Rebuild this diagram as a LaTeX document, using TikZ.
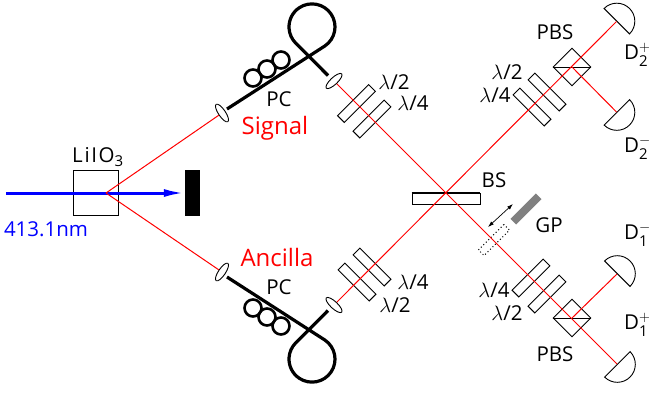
\documentclass[tikz,border=0pt]{standalone}
\usepackage{fontspec}
\usepackage{amsmath}
\setmainfont{Open Sans}
\usetikzlibrary{
arrows.meta,
shapes.geometric
}
\newcommand{\detlab}[2]{D$_{\hbox{\fontsize{15}{15}\selectfont #1}}^{\hbox{\fontsize{14}{14}\selectfont$#2$}}$}
\tikzset{
plate/.style={draw, line width=0.9pt, inner sep=0pt, minimum width=44pt, minimum height=9.5pt, rotate=#1},
pbscube/.style={draw, line width=0.9pt, diamond, aspect=1, inner sep=0pt, minimum size=38pt},
lens/.style={draw, line width=0.9pt, ellipse, inner sep=0pt, minimum width=21pt, minimum height=7pt, rotate=#1},
detector/.style={draw, line width=0.9pt, semicircle, inner sep=0pt, minimum width=36pt, minimum height=18pt, anchor=chord center, rotate=#1},
coil/.style={draw, circle, line width=2.6pt, inner sep=0pt, minimum size=17pt},
redbeam/.style={draw=red, line width=1pt},
fiber/.style={draw, line width=3.2pt},
lab/.style={font=\fontsize{20.5}{20.5}\selectfont, inner sep=0pt},
detlabel/.style={lab, anchor=west},
redlab/.style={font=\fontsize{24}{24}\selectfont, text=red, inner sep=0pt}
}
\begin{document}
\begin{tikzpicture}[x=1pt, y=-1pt]
\useasboundingbox (0,0) rectangle (649,392);
% source side
\coordinate (bluein) at (6,193);
\coordinate (pump) at (106,193);
\node[draw, line width=0.9pt, minimum size=44.5pt, inner sep=0pt] (lio) at (96,193) {};
\node[fill=black, inner sep=0pt, minimum width=15pt, minimum height=46pt] (dump) at (192.5,193) {};
\draw[line width=3pt, blue, -{Latex[length=21pt, width=8pt]}] (bluein) -- (dump.west);
\node[lab] (liolab) at (98,157) {\addfontfeature{LetterSpace=8}LiIO$_{\hbox{\fontsize{15}{15}\selectfont 3}}$};
\node[lab, blue] (nmlab) at (46,229) {413.1nm};
% lenses
\node[lens=-56] (lensa) at (222,113) {};
\node[lens=56] (lensb) at (222,272) {};
\node[lens=43] (lensc) at (334,81) {};
\node[lens=-43] (lensd) at (334,305) {};
% fibers
\coordinate (fibup) at (324.8,46);
\coordinate (fibdn) at (324.8,340);
\coordinate (fibendc) at (328,75.5);
\coordinate (fibendd) at (328,310.5);
\draw[fiber] (227,109) -- (fibup) arc[start angle=56.2, end angle=-225, radius=23] -- (fibendc);
\draw[fiber] (227,277) -- (fibdn) arc[start angle=-56.2, end angle=225, radius=23] -- (fibendd);
\foreach \nm/\xx/\yy in {ca/253/78,cb/267/69,cc/281/60,cd/253/308,ce/267/317,cf/281/326}
  \node[coil] (\nm) at (\xx,\yy) {};
\node[lab] (pca) at (279,99) {PC};
\node[lab] (pcb) at (279,287) {PC};
\node[redlab] (sig) at (275,128) {Signal};
\node[redlab] (anc) at (277,257) {Ancilla};
% beam splitter
\node[draw, line width=0.9pt, inner sep=0pt, minimum width=68pt, minimum height=11pt] (bs) at (446,198.5) {};
\draw[line width=2pt] (bs.north west) -- (bs.north east);
\coordinate (bsc) at (446,193);
\node[lab] (bslab) at (494,180) {BS};
% wave plates
\node[plate=45] (hwa) at (356.5,103.5) {};
\node[plate=45] (qwa) at (372,119) {};
\node[plate=-45] (hwb) at (357,282) {};
\node[plate=-45] (qwb) at (372,267) {};
\node[plate=-45] (hwc) at (547,92) {};
\node[plate=-45] (qwc) at (532,107) {};
\node[plate=45] (qwd) at (531,278) {};
\node[plate=45] (hwe) at (547,294) {};
\node[lab] at (394,82) {$\lambda$/2};
\node[lab] at (413,103) {$\lambda$/4};
\node[lab] at (413,282) {$\lambda$/4};
\node[lab] at (395,305) {$\lambda$/2};
\node[lab] at (507,72) {$\lambda$/2};
\node[lab] at (495,95) {$\lambda$/4};
\node[lab] at (494,290) {$\lambda$/4};
\node[lab] at (507,313) {$\lambda$/2};
% polarising splitters
\node[pbscube] (pbsa) at (572,67) {};
\node[pbscube] (pbsb) at (572,318) {};
\draw[line width=0.9pt] (pbsa.west) -- (pbsa.east);
\draw[line width=0.9pt] (pbsb.west) -- (pbsb.east);
\node[lab] (pbsalab) at (555,32) {PBS};
\node[lab] (pbsblab) at (555,354) {PBS};
% detectors
\node[detector=-45] (dap) at (616.5,21.5) {};
\node[detector=-135] (dam) at (616.5,112) {};
\node[detector=-45] (dbm) at (617,274) {};
\node[detector=-135] (dbp) at (617,364) {};
\node[detlabel] at (624,55) {\detlab{2}{+}};
\node[detlabel] at (624,148) {\detlab{2}{-}};
\node[detlabel] at (624,235) {\detlab{1}{-}};
\node[detlabel] at (624,325) {\detlab{1}{+}};
% glass plate
\node[fill=black!50, inner sep=0pt, minimum width=36pt, minimum height=8pt, rotate=45] (gp) at (526,209) {};
\node[draw, dash pattern=on 1pt off 2.5pt, line width=1pt, inner sep=0pt, minimum width=36pt, minimum height=8pt, rotate=45] (gpold) at (494,240) {};
\coordinate (gpa) at (488,227);
\coordinate (gpb) at (513,204);
\draw[{Latex[length=6pt, width=4pt]}-{Latex[length=6pt, width=4pt]}, line width=0.7pt] (gpa) -- (gpb);
\node[lab] (gplab) at (549,225) {GP};
% red beams
\draw[redbeam] (pump) -- (lensa);
\draw[redbeam] (pump) -- (lensb);
\draw[redbeam] (lensc) -- (bsc);
\draw[redbeam] (lensd) -- (dap.chord center);
\draw[redbeam] (bsc) -- (dbp.chord center);
\draw[redbeam] (pbsa.center) -- (dam.chord center);
\draw[redbeam] (pbsb.center) -- (dbm.chord center);
\end{tikzpicture}
\end{document}
